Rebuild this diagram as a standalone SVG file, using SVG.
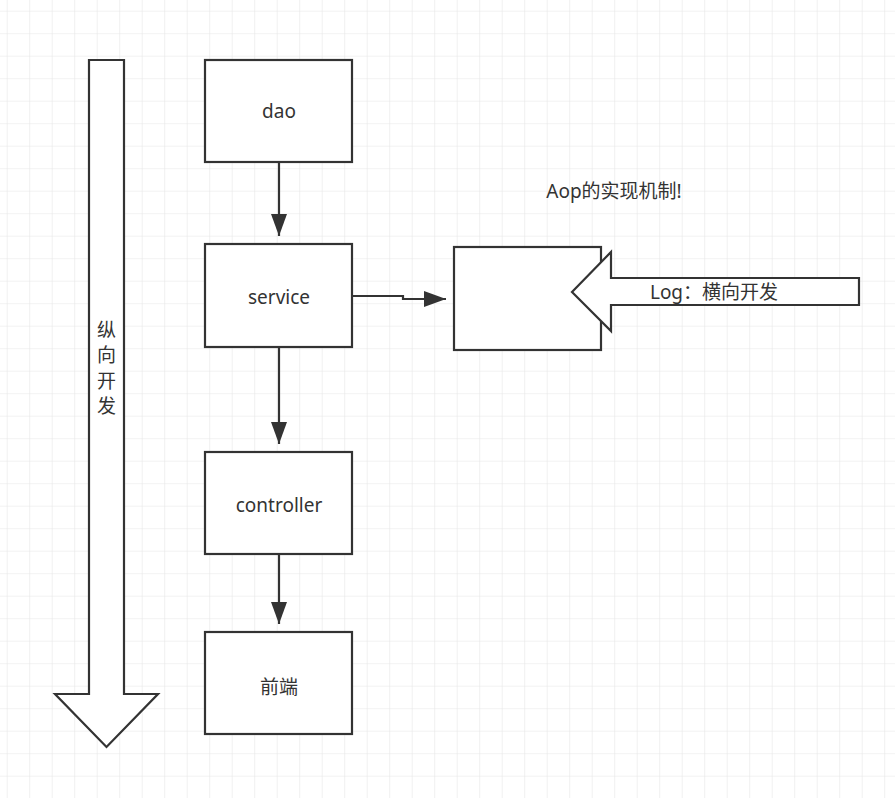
<svg xmlns="http://www.w3.org/2000/svg" width="895" height="798" viewBox="0 0 895 798">
<defs>
<pattern id="grid" x="6.7" y="10.7" width="22.5" height="22.5" patternUnits="userSpaceOnUse">
<path d="M0 0H22.5M0 0V22.5" fill="none" stroke="#e6e6e6" stroke-width="1.2"/>
</pattern>
<marker id="arr2" viewBox="0 0 22 16" refX="22" refY="8" markerWidth="22" markerHeight="16" markerUnits="userSpaceOnUse" orient="auto">
<path d="M0 0L22 8L0 16Z" fill="#333"/>
</marker>
<style>
.box{fill:#fff;stroke:#333;stroke-width:2.2}
.ln{fill:none;stroke:#333;stroke-width:2.2}
.t{font-family:"Noto Sans","Noto Sans CJK SC",sans-serif;font-size:19px;fill:#333;text-anchor:middle;dominant-baseline:central}
</style>
</defs>
<rect width="895" height="798" fill="#fff"/>
<rect width="895" height="798" fill="url(#grid)"/>
<g id="vertical-arrow">
<polygon class="box" points="89,60 124,60 124,694 158,694 106.5,747 55,694 89,694"/>
<text class="t" x="106.5" y="330">纵</text>
<text class="t" x="106.5" y="355">向</text>
<text class="t" x="106.5" y="381">开</text>
<text class="t" x="106.5" y="406">发</text>
</g>
<g id="connectors">
<path class="ln" d="M279 162V236" marker-end="url(#arr2)"/>
<path class="ln" d="M279 347V444" marker-end="url(#arr2)"/>
<path class="ln" d="M279 554V624" marker-end="url(#arr2)"/>
<path class="ln" d="M352 296H403V299H446" marker-end="url(#arr2)"/>
</g>
<g id="dao"><rect class="box" x="205" y="60" width="147" height="102"/><text class="t" x="279" y="111">dao</text></g>
<g id="service"><rect class="box" x="205" y="244" width="147" height="103"/><text class="t" x="279" y="297">service</text></g>
<g id="controller"><rect class="box" x="205" y="452" width="147" height="102"/><text class="t" x="279" y="505">controller</text></g>
<g id="frontend"><rect class="box" x="205" y="632" width="147" height="102"/><text class="t" x="279" y="687">前端</text></g>
<g id="aop"><rect class="box" x="454" y="247" width="147" height="103"/></g>
<g id="aop-label"><text class="t" x="614" y="191">Aop的实现机制!</text></g>
<g id="log-arrow">
<polygon class="box" points="572,292 611,252 611,278 859,278 859,305 611,305 611,331"/>
<text class="t" x="714" y="292">Log：横向开发</text>
</g>
</svg>
